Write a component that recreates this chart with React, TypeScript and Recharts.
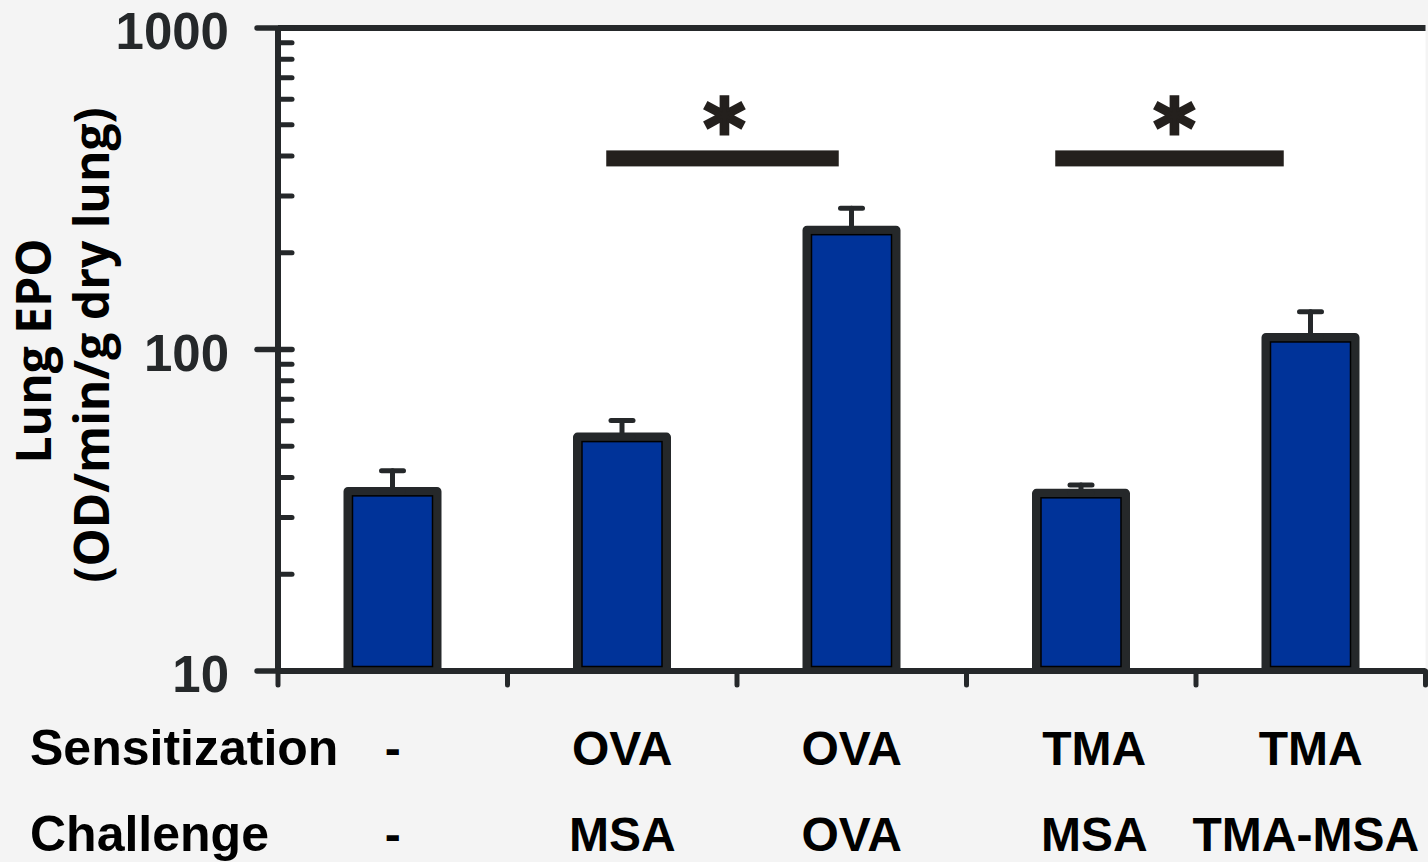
import React from 'react';
import { ComposedChart, Bar, XAxis, YAxis, ErrorBar, CartesianGrid, ReferenceLine } from 'recharts';

// ---- data ----
const sensitization = ['-', 'OVA', 'OVA', 'TMA', 'TMA'];
const challenge = ['-', 'MSA', 'OVA', 'MSA', 'TMA-MSA'];
const epoMean = [36.2, 53.4, 235, 35.7, 109];
const epoSem = [5.8, 6.7, 40, 2.2, 22];
const yMajorTicks = [10, 100, 1000];
const yMinorTicks = [20, 30, 40, 50, 60, 70, 80, 90, 200, 300, 400, 500, 600, 700, 800, 900];
const sigPairs = [
  { from: 1, to: 2, level: 393, mark: '*' },
  { from: 3, to: 4, level: 393, mark: '*' },
];
const rowHeaders = ['Sensitization', 'Challenge'];

// ---- layout / style ----
const W = 1428;
const H = 862;
const INK = '#25282a';
const BAR_FILL = '#003399';
const LABEL_FONT = '"Liberation Sans", Arial, sans-serif';
const rowNudge = [
  [0, 0, 0, 13, 0],
  [0, 0, 0, 13, -5],
];
const sigNudge = [
  { l: -16, r: -13, star: 2 },
  { l: -26, r: -27, star: 5 },
];

const data = sensitization.map((s, i) => ({
  key: `${s}|${challenge[i]}`,
  sens: s,
  chal: challenge[i],
  mean: epoMean[i],
  err: [0, epoSem[i]],
}));

const YTick = (props: any) => {
  const { x, y, payload } = props;
  const v = payload.value;
  const major = yMajorTicks.includes(v);
  return (
    <g>
      {major ? (
        <line x1={x - 21} x2={x + 14} y1={y} y2={y} stroke={INK} strokeWidth={5.5} strokeLinecap="round" />
      ) : (
        <line x1={x} x2={x + 14} y1={y} y2={y} stroke={INK} strokeWidth={5} strokeLinecap="round" />
      )}
      {major && (
        <text x={x - 49} y={y + 21} textAnchor="end" fill={INK} fontFamily={LABEL_FONT} fontWeight={700} fontSize={51}>
          {v}
        </text>
      )}
    </g>
  );
};

const XTick = (props: any) => {
  const { x, y, payload, index } = props;
  const half = payload && payload.offset ? payload.offset : (W - 278 - 2.5) / 10;
  const d = data[index];
  return (
    <g>
      <line x1={x - half} x2={x - half} y1={y} y2={y + 14} stroke={INK} strokeWidth={5} strokeLinecap="round" />
      {index === data.length - 1 && (
        <line x1={x + half} x2={x + half} y1={y} y2={y + 14} stroke={INK} strokeWidth={5} strokeLinecap="round" />
      )}
      <text x={x + rowNudge[0][index]} y={y + 94} textAnchor="middle" fill="#000" fontFamily={LABEL_FONT} fontWeight={700} fontSize={48}>
        {d.sens}
      </text>
      <text x={x + rowNudge[1][index]} y={y + 180} textAnchor="middle" fill="#000" fontFamily={LABEL_FONT} fontWeight={700} fontSize={48}>
        {d.chal}
      </text>
      {index === 0 &&
        rowHeaders.map((h, k) => (
          <text key={h} x={30} y={y + 94 + 86 * k} textAnchor="start" fill="#000" fontFamily={LABEL_FONT} fontWeight={700} fontSize={50}>
            {h}
          </text>
        ))}
    </g>
  );
};

const BarShape = (props: any) => {
  const { x, y, width, height } = props;
  if (width == null || height == null) return null;
  return (
    <g>
      <rect x={x} y={y} width={width} height={height} fill={BAR_FILL} stroke={INK} strokeWidth={9} strokeLinejoin="round" />
      <rect x={x + 4.5} y={y + 4.5} width={Math.max(0, width - 9)} height={Math.max(0, height - 9)} fill="none" stroke="#000" strokeWidth={1.5} />
    </g>
  );
};

const makeSigShape = (k: number, mark: string) => (props: any) => {
  const { x1, y1, x2 } = props;
  const n = sigNudge[k];
  const l = x1 + n.l;
  const r = x2 + n.r;
  return (
    <g>
      <rect x={l} y={y1 - 8} width={r - l} height={16} fill="#24201d" />
      <text
        x={(l + r) / 2 + n.star}
        y={y1 - 2}
        textAnchor="middle"
        fill="#24201d"
        stroke="#24201d"
        strokeWidth={3}
        strokeLinejoin="miter"
        fontFamily='"DejaVu Sans", sans-serif'
        fontWeight={700}
        fontSize={80}
      >
        {mark}
      </text>
    </g>
  );
};

const YLabel = () => (
  <g fill="#000" fontFamily='"Open Sans", "Noto Sans", sans-serif' fontWeight={700} fontSize={48}>
    <text x={51} y={351} transform="rotate(-90, 51, 351)" textAnchor="middle">Lung EPO</text>
    <text x={109} y={345} transform="rotate(-90, 109, 345)" textAnchor="middle">(OD/min/g dry lung)</text>
  </g>
);

export default function App() {
  return (
    <div style={{ position: 'absolute', left: 0, top: 0, width: W, height: H, background: '#f4f4f4' }}>
      <ComposedChart width={W} height={H} data={data} margin={{ top: 28, right: 2.5, left: 0, bottom: 0 }}>
        <CartesianGrid fill="#ffffff" horizontal={false} vertical={false} yAxisId="main" />
        <XAxis
          dataKey="key"
          type="category"
          height={191}
          interval={0}
          tickLine={false}
          tickSize={0}
          tickMargin={0}
          axisLine={{ stroke: INK, strokeWidth: 6 }}
          tick={<XTick />}
        />
        <YAxis
          yAxisId="main"
          type="number"
          scale="log"
          domain={[10, 1000]}
          allowDataOverflow
          ticks={[...yMajorTicks, ...yMinorTicks]}
          interval={0}
          width={278}
          tickLine={false}
          tickSize={0}
          tickMargin={0}
          axisLine={{ stroke: INK, strokeWidth: 6 }}
          tick={<YTick />}
          label={<YLabel />}
        />
        <YAxis
          yAxisId="frame"
          orientation="right"
          type="number"
          domain={[0, 1]}
          width={0}
          tick={false}
          tickLine={false}
          axisLine={{ stroke: INK, strokeWidth: 5 }}
        />
        <ReferenceLine yAxisId="main" y={1000} stroke={INK} strokeWidth={6} />
        <Bar yAxisId="main" dataKey="mean" barSize={89} isAnimationActive={false} shape={<BarShape />}>
          <ErrorBar dataKey="err" direction="y" width={11} stroke={INK} strokeWidth={5} strokeLinecap="round" isAnimationActive={false} />
        </Bar>
        {sigPairs.map((s, k) => (
          <ReferenceLine
            key={k}
            yAxisId="main"
            segment={[
              { x: data[s.from].key, y: s.level },
              { x: data[s.to].key, y: s.level },
            ]}
            shape={makeSigShape(k, s.mark)}
            ifOverflow="visible"
          />
        ))}
      </ComposedChart>
    </div>
  );
}
